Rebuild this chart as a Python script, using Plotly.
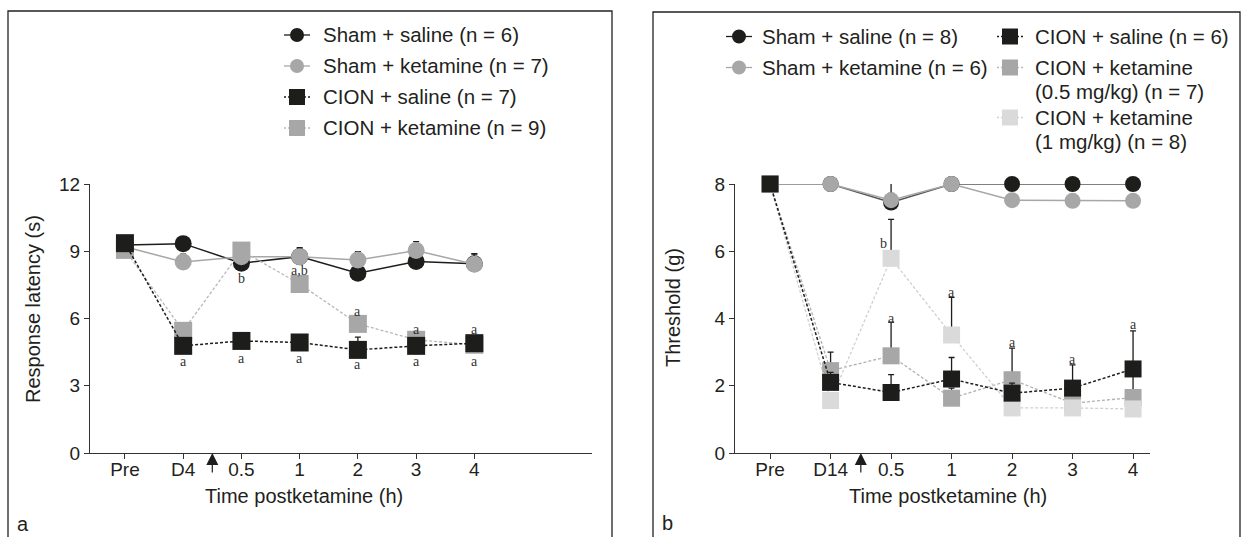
import plotly.graph_objects as go

W, H = 1244, 537

# ---------------- Data: panel a (response latency, s) ----------------
cats_a = ["Pre", "D4", "0.5", "1", "2", "3", "4"]
a_sham_saline = [9.28, 9.34, 8.47, 8.76, 8.02, 8.54, 8.44]
a_sham_ket = [9.20, 8.52, 8.76, 8.76, 8.61, 9.03, 8.42]
a_cion_saline = [9.36, 4.78, 5.00, 4.93, 4.60, 4.78, 4.90]
a_cion_ket = [9.06, 5.45, 9.03, 7.54, 5.76, 5.05, 4.83]
a_err_sham_saline = [0.30, 0.30, 0.30, 0.40, 0.30, 0.30, 0.45]
a_err_sham_ket = [0.30, 0.35, 0.30, 0.35, 0.37, 0.40, 0.45]
a_err_cion_saline = [0.30, 0.30, 0.35, 0.30, 0.57, 0.30, 0.30]
a_err_cion_ket = [0.40, 0.30, 0.30, 0.30, 0.30, 0.20, 0.20]
a_names = ["Sham + saline (n = 6)", "Sham + ketamine (n = 7)",
           "CION + saline (n = 7)", "CION + ketamine (n = 9)"]
# significance letters: (category index, y, text)
a_letters_x = [2, 3, 1, 2, 3, 4, 5, 6, 4, 5, 6]
a_letters_y = [7.77, 8.12, 4.10, 4.20, 4.20, 3.97, 4.10, 4.10, 6.30, 5.52, 5.52]
a_letters_t = ["b", "a,b", "a", "a", "a", "a", "a", "a", "a", "a", "a"]

# ---------------- Data: panel b (threshold, g) ----------------
cats_b = ["Pre", "D14", "0.5", "1", "2", "3", "4"]
b_sham_saline = [8.0, 8.0, 7.45, 8.0, 8.0, 8.0, 8.0]
b_sham_ket = [8.0, 8.0, 7.52, 8.0, 7.52, 7.50, 7.50]
b_cion_saline = [8.0, 2.10, 1.80, 2.20, 1.78, 1.93, 2.50]
b_cion_ket05 = [8.0, 2.45, 2.89, 1.63, 2.18, 1.48, 1.65]
b_cion_ket1 = [8.0, 1.56, 5.79, 3.51, 1.34, 1.34, 1.31]
b_err_sham_saline = [0.0, 0.0, 0.60, 0.0, 0.0, 0.0, 0.0]
b_err_sham_ket = [0.0, 0.0, 0.20, 0.0, 0.0, 0.0, 0.0]
b_err_cion_saline = [0.0, 0.30, 0.53, 0.64, 0.30, 0.69, 1.13]
b_err_cion_ket05 = [0.0, 0.55, 1.00, 0.30, 0.94, 0.40, 0.95]
b_err_cion_ket1 = [0.0, 0.20, 1.16, 1.12, 0.20, 0.20, 0.20]
b_names = ["Sham + saline (n = 8)", "Sham + ketamine (n = 6)",
           "CION + saline (n = 6)", "CION + ketamine<br>(0.5 mg/kg) (n = 7)",
           "CION + ketamine<br>(1 mg/kg) (n = 8)"]
b_letters_x = [1.87, 2, 3, 4, 5, 6]
b_letters_y = [6.22, 4.01, 4.77, 3.29, 2.77, 3.83]
b_letters_t = ["b", "a", "a", "a", "a", "a"]

# ---------------- Styles ----------------
BLACK = "#1d1d1b"
GRAY = "#a7a7a7"
LIGHT = "#dadada"
TXT = "#231f20"
FONT = "Liberation Sans"

def px_x(p):
    return p / W

def px_y(p):
    return 1 - p / H

fig = go.Figure()

def add_series(x, y, err, name, color, symbol, size, dash, lw, xa, ya, lcolor=None):
    fig.add_trace(go.Scatter(
        x=x, y=y, name=name, mode="lines+markers", showlegend=False,
        xaxis=xa, yaxis=ya, cliponaxis=False,
        line=dict(color=lcolor or color, width=lw, dash=dash),
        marker=dict(color=color, symbol=symbol, size=size, line=dict(width=0)),
        error_y=dict(type="data", symmetric=False, array=err,
                     arrayminus=[0] * len(err), color=BLACK, thickness=1.3, width=3),
    ))

xa_idx = list(range(len(cats_a)))
xb_idx = list(range(len(cats_b)))

# Panel a traces (draw order: circles below squares)
a_styles = [
    (a_sham_saline, a_err_sham_saline, BLACK, "circle", 17, "solid", 1.5, None),
    (a_sham_ket, a_err_sham_ket, GRAY, "circle", 17, "solid", 1.5, None),
    (a_cion_ket, a_err_cion_ket, GRAY, "square", 18, "3px,2px", 1.3, "#b8b8b8"),
    (a_cion_saline, a_err_cion_saline, BLACK, "square", 18, "3px,2px", 1.5, None),
]
a_order_names = [a_names[0], a_names[1], a_names[3], a_names[2]]
for (y, e, c, s, sz, d, lw, lc), nm in zip(a_styles, a_order_names):
    add_series(xa_idx, y, e, nm, c, s, sz, d, lw, "x", "y", lc)

# Panel b traces
b_styles = [
    (b_sham_saline, b_err_sham_saline, BLACK, "circle", 16, "solid", 1.5, "#555555", b_names[0]),
    (b_sham_ket, b_err_sham_ket, GRAY, "circle", 16, "solid", 1.5, None, b_names[1]),
    (b_cion_ket05, b_err_cion_ket05, GRAY, "square", 17, "3px,2px", 1.3, "#b0b0b0", b_names[3]),
    (b_cion_ket1, b_err_cion_ket1, LIGHT, "square", 17, "3px,2px", 1.3, "#d0d0d0", b_names[4]),
    (b_cion_saline, b_err_cion_saline, BLACK, "square", 17, "3px,2px", 1.5, None, b_names[2]),
]
for y, e, c, s, sz, d, lw, lc, nm in b_styles:
    add_series(xb_idx, y, e, nm.replace("<br>", " "), c, s, sz, d, lw, "x2", "y2", lc)

# ---------------- Axes ----------------
axis_common = dict(showline=True, linecolor="#333333", linewidth=1.3, ticks="outside",
                   ticklen=5, tickwidth=1.2, tickcolor="#333333", showgrid=False,
                   zeroline=False, automargin=False,
                   tickfont=dict(family=FONT, size=19, color=TXT))
ydom = [px_y(453), px_y(184)]
fig.update_layout(
    xaxis=dict(domain=[px_x(90), px_x(592)], range=[-0.60, 8.02], anchor="y",
               tickvals=xa_idx, ticktext=cats_a, ticklabelstandoff=-6, **axis_common),
    yaxis=dict(domain=ydom, range=[0, 12], anchor="x", tickvals=[0, 3, 6, 9, 12],
               **axis_common),
    xaxis2=dict(domain=[px_x(735), px_x(1150)], range=[-0.58, 6.28], anchor="y2",
                tickvals=xb_idx, ticktext=cats_b, ticklabelstandoff=-6, **axis_common),
    yaxis2=dict(domain=ydom, range=[0, 8], anchor="x2", tickvals=[0, 2, 4, 6, 8],
                **axis_common),
)

ann = []
shapes = []

def paper_text(text, x, y, size=20, angle=0, xanchor="center"):
    ann.append(dict(text=text, x=px_x(x), y=px_y(y), xref="paper", yref="paper",
                    xanchor=xanchor, yanchor="middle", textangle=angle, showarrow=False,
                    font=dict(family=FONT, size=size, color=TXT)))

# axis titles
paper_text("Response latency (s)", 33, 309, angle=-90)
paper_text("Threshold (g)", 673, 308, angle=-90)
paper_text("Time postketamine (h)", 304, 496)
paper_text("Time postketamine (h)", 948, 496)
# panel labels
paper_text("a", 23, 524)
paper_text("b", 667, 523)

# ketamine injection arrows
for xr in ["x", "x2"]:
    ann.append(dict(text="", x=1.5, xref=xr, y=px_y(453), yref="paper", ax=0, ay=21,
                    showarrow=True, arrowhead=2, arrowsize=2.0, arrowwidth=1.2,
                    arrowcolor=BLACK))

# significance letters
for xv, yv, t in zip(a_letters_x, a_letters_y, a_letters_t):
    ann.append(dict(text=t, x=xv, y=yv, xref="x", yref="y", showarrow=False,
                    xanchor="center", yanchor="middle",
                    font=dict(family="Liberation Serif", size=14, color="#333333")))
for xv, yv, t in zip(b_letters_x, b_letters_y, b_letters_t):
    ann.append(dict(text=t, x=xv, y=yv, xref="x2", yref="y2", showarrow=False,
                    xanchor="center", yanchor="middle",
                    font=dict(family="Liberation Serif", size=14, color="#333333")))

# panel frames (open at the bottom, cut by the page)
for x0, x1, y0 in [(8, 612, 11), (653, 1240, 12)]:
    shapes.append(dict(type="path", xref="paper", yref="paper",
                       path=f"M {px_x(x0)},{px_y(560)} L {px_x(x0)},{px_y(y0)} L {px_x(x1)},{px_y(y0)} L {px_x(x1)},{px_y(560)}",
                       line=dict(color="#222222", width=1.3)))

# ---------------- Manual legends ----------------
def legend_entry(cx, cy, color, lcolor, symbol, msize, dash, lines, tx, line_gap=23.5):
    shapes.append(dict(type="line", xref="paper", yref="paper",
                       x0=px_x(cx - 13), x1=px_x(cx + 13), y0=px_y(cy), y1=px_y(cy),
                       line=dict(color=lcolor, width=1.3, dash=dash)))
    half = msize / 2
    shapes.append(dict(type="circle" if symbol == "circle" else "rect",
                       xref="paper", yref="paper", xsizemode="pixel", ysizemode="pixel",
                       xanchor=px_x(cx), yanchor=px_y(cy),
                       x0=-half, x1=half, y0=-half, y1=half,
                       fillcolor=color, line=dict(width=0)))
    for k, ln in enumerate(lines):
        paper_text(ln, tx, cy + k * line_gap, size=20.5, xanchor="left")

a_leg_styles = [(BLACK, BLACK, "circle", 14, "solid"),
                (GRAY, GRAY, "circle", 14, "solid"),
                (BLACK, BLACK, "square", 16, "2px,2px"),
                (GRAY, "#b8b8b8", "square", 16, "2px,2px")]
a_leg_rows = [35, 66, 97, 128]
for nm, st, ry in zip(a_names, a_leg_styles, a_leg_rows):
    legend_entry(297, ry, st[0], st[1], st[2], st[3], st[4], [nm], 321)

b_leg_styles = [(BLACK, BLACK, "circle", 14, "solid"),
                (GRAY, GRAY, "circle", 14, "solid"),
                (BLACK, BLACK, "square", 16, "2px,2px"),
                (GRAY, "#b8b8b8", "square", 16, "2px,2px"),
                (LIGHT, "#d0d0d0", "square", 16, "2px,2px")]
b_leg_pos = [(739, 36.5, 760), (739, 67.5, 760), (1010, 36.5, 1033),
             (1010, 67.5, 1033), (1010, 117.5, 1033)]
for nm, st, (cx, cy, tx) in zip(b_names, b_leg_styles, b_leg_pos):
    legend_entry(cx, cy, st[0], st[1], st[2], st[3], st[4], nm.split("<br>"), tx)

fig.update_layout(
    width=W, height=H, autosize=False,
    margin=dict(l=0, r=0, t=0, b=0, pad=0, autoexpand=False),
    paper_bgcolor="white", plot_bgcolor="white",
    annotations=ann, shapes=shapes, showlegend=False,
    font=dict(family=FONT, color=TXT),
)

fig.write_html("out.html", config={"displayModeBar": False},
               post_script="document.body.style.margin='0';document.body.style.overflow='hidden';")
